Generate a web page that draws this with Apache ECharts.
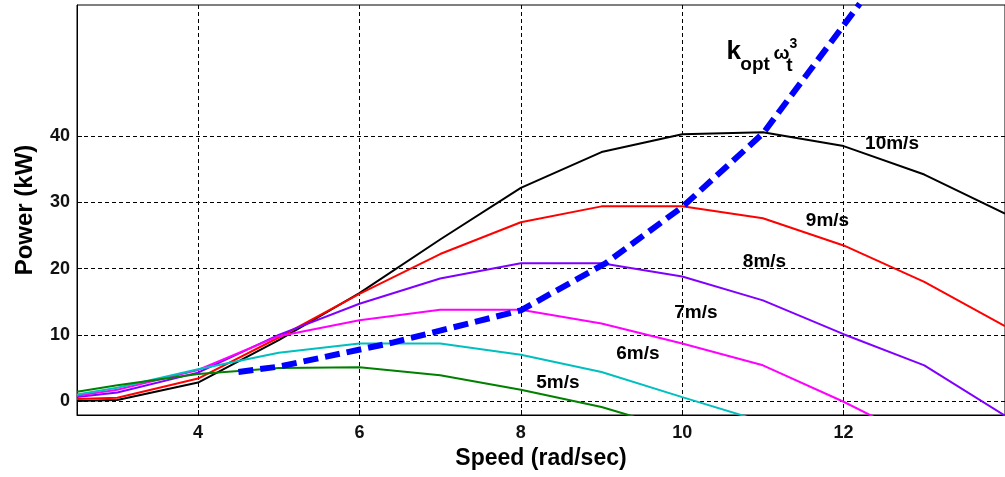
<!DOCTYPE html>
<html>
<head>
<meta charset="utf-8">
<script src="https://cdn.jsdelivr.net/npm/echarts@6/dist/echarts.min.js"></script>
<style>
  html, body { margin: 0; padding: 0; background: #fff; }
  #chart { width: 1005px; height: 477px; }
</style>
</head>
<body>
<div id="chart"></div>
<script>
// rotor speed (rad/sec) where each wind-speed curve was sampled
const speed = [2.5, 3, 4, 5, 6, 7, 8, 9, 10, 11, 12, 13, 14];

// power (kW) per wind speed
const power10 = [0.0, 0.15, 2.8, 9.2, 16.3, 24.4, 32.2, 37.6, 40.3, 40.6, 38.5, 34.2, 28.3];
const power9 = [0.3, 0.5, 3.4, 9.6, 16.2, 22.2, 27.0, 29.4, 29.4, 27.6, 23.5, 18.0, 11.3];
const power8 = [0.6, 1.3, 4.3, 10.0, 14.7, 18.5, 20.8, 20.8, 18.8, 15.2, 10.1, 5.4, -2.2];
const power7 = [0.8, 1.7, 4.7, 9.8, 12.2, 13.8, 13.8, 11.7, 8.7, 5.4, -0.1, -6.2];
const power6 = [1.0, 2.0, 4.8, 7.3, 8.7, 8.7, 7.0, 4.4, 0.6, -3.1];
const power5 = [1.4, 2.4, 4.1, 5.0, 5.1, 3.9, 1.7, -0.9, -4.5];

// optimum power curve (kopt * w^3) through the peaks
const mppSpeed = [4.5, 5, 6.4, 8, 9.05, 10, 11, 12.2];
const mppPower = [4.4, 5.2, 8.8, 13.7, 20.8, 29.3, 40.4, 60];

// wind speed labels and where they sit (data units)
const curveLabels = ['10m/s', '9m/s', '8m/s', '7m/s', '6m/s', '5m/s'];
const curveLabelX = [12.6, 11.8, 11.02, 10.17, 9.45, 8.46];
const curveLabelY = [38.9, 27.3, 21.0, 13.3, 7.1, 2.7];

// formula label pieces: k opt w t 3
const formulaText = ['k', 'opt', 'ω', 't', '3'];
const formulaX = [10.55, 10.72, 11.13, 11.29, 11.33];
const formulaY = [52.8, 50.8, 52.5, 50.7, 53.9];

const xTicks = [4, 6, 8, 10, 12];
const yTicks = [0, 10, 20, 30, 40];

const FONT = "'Liberation Sans', Arial, sans-serif";

const chart = echarts.init(document.getElementById('chart'));

const zip = (xs, ys) => ys.map((y, i) => [xs[i], y]);

// 风速曲线
const curves = [
  { name: '10m/s', data: power10, color: '#000000' },
  { name: '9m/s', data: power9, color: '#ff0000' },
  { name: '8m/s', data: power8, color: '#8000ff' },
  { name: '7m/s', data: power7, color: '#ff00ff' },
  { name: '6m/s', data: power6, color: '#00bfbf' },
  { name: '5m/s', data: power5, color: '#008000' }
];

const formulaSizes = [26, 19, 19, 19, 14];

const series = curves.map(c => ({
  name: c.name,
  type: 'line',
  data: zip(speed, c.data),
  symbol: 'none',
  clip: true,
  lineStyle: { color: c.color, width: 2 },
  silent: true
}));

series.push({
  name: 'kopt',
  type: 'line',
  data: zip(mppSpeed, mppPower),
  symbol: 'none',
  clip: true,
  lineStyle: { color: '#0000ff', width: 6, type: [15, 7] },
  silent: true,
  z: 3
});

series.push({
  name: 'labels',
  type: 'scatter',
  symbolSize: 0,
  silent: true,
  itemStyle: { opacity: 1 },
  data: curveLabels.map((t, i) => ({ value: [curveLabelX[i], curveLabelY[i]], name: t })),
  label: {
    show: true,
    position: 'inside',
    formatter: p => p.name,
    fontFamily: FONT,
    fontSize: 19,
    fontWeight: 'bold',
    color: '#000',
    opacity: 1,
    textBorderWidth: 0
  },
  z: 5
});

series.push({
  name: 'formula',
  type: 'scatter',
  symbolSize: 0,
  silent: true,
  itemStyle: { opacity: 1 },
  data: formulaText.map((t, i) => ({
    value: [formulaX[i], formulaY[i]],
    name: t,
    label: { fontSize: formulaSizes[i] }
  })),
  label: {
    show: true,
    position: 'inside',
    align: 'left',
    verticalAlign: 'middle',
    formatter: p => p.name,
    fontFamily: FONT,
    fontWeight: 'bold',
    color: '#000',
    opacity: 1,
    textBorderWidth: 0
  },
  z: 5
});

const option = {
  animation: false,
  backgroundColor: '#fff',
  grid: {
    left: 77,
    top: 5,
    right: -5,
    bottom: 62,
    show: true,
    borderColor: '#000',
    borderWidth: 1
  },
  xAxis: {
    type: 'value',
    min: 2.5,
    max: 14,
    name: 'Speed (rad/sec)',
    nameLocation: 'middle',
    nameGap: 31,
    nameTextStyle: { fontFamily: FONT, fontSize: 23, fontWeight: 'bold', color: '#000' },
    axisLine: { onZero: false, lineStyle: { color: '#000', width: 1 } },
    axisTick: { inside: true, length: 5, customValues: xTicks, lineStyle: { color: '#000' } },
    axisLabel: { customValues: xTicks, margin: 9, fontFamily: FONT, fontSize: 18, fontWeight: 'bold', color: '#111' },
    splitLine: { show: true, lineStyle: { color: '#000', width: 1, type: [4, 3] } }
  },
  yAxis: {
    type: 'value',
    min: -2.1,
    max: 59.8,
    name: 'Power (kW)',
    nameLocation: 'middle',
    nameGap: 40,
    nameRotate: 90,
    nameTextStyle: { fontFamily: FONT, fontSize: 24, fontWeight: 'bold', color: '#000' },
    axisLine: { show: true, onZero: false, lineStyle: { color: '#000', width: 1 } },
    axisTick: { show: true, inside: true, length: 5, customValues: yTicks, lineStyle: { color: '#000' } },
    axisLabel: { customValues: yTicks, margin: 7, fontFamily: FONT, fontSize: 18, fontWeight: 'bold', color: '#111' },
    splitLine: { show: true, lineStyle: { color: '#000', width: 1, type: [4, 3] } }
  },
  series
};

chart.setOption(option);
</script>
</body>
</html>
